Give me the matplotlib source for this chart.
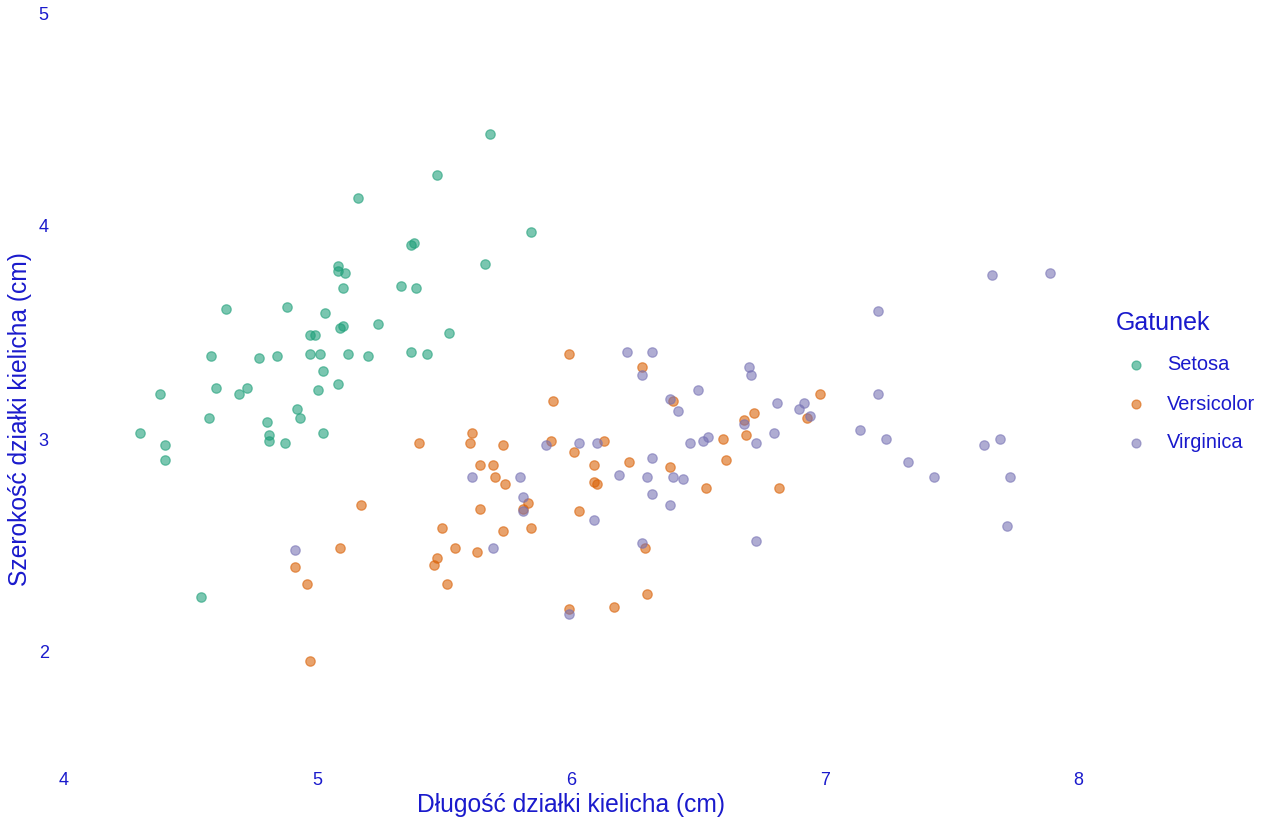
import matplotlib
matplotlib.use("Agg")
import matplotlib.pyplot as plt

plt.rcParams['font.family'] = ['Liberation Sans', 'DejaVu Sans']

# ---- data (sepal length / width, jittered) ----
setosa_x = [5.68, 5.47, 5.16, 5.84, 5.38, 5.37, 5.66, 5.08, 5.08, 5.11,
            5.10, 5.33, 5.39, 4.64, 4.88, 5.03, 5.24, 5.10, 5.09, 5.52,
            4.97, 4.99, 4.58, 4.77, 4.84, 4.97, 5.01, 5.12, 5.20, 5.37,
            5.43, 5.02, 4.38, 4.60, 4.69, 4.72, 5.00, 5.08, 4.57, 4.92,
            4.93, 4.80, 4.30, 4.81, 4.81, 4.87, 5.02, 4.40, 4.40, 4.54]
setosa_y = [4.43, 4.24, 4.13, 3.97, 3.92, 3.91, 3.82, 3.81, 3.79, 3.78,
            3.71, 3.72, 3.71, 3.61, 3.62, 3.59, 3.54, 3.53, 3.52, 3.50,
            3.49, 3.49, 3.39, 3.38, 3.39, 3.40, 3.40, 3.40, 3.39, 3.41,
            3.40, 3.32, 3.21, 3.24, 3.21, 3.24, 3.23, 3.26, 3.10, 3.14,
            3.10, 3.08, 3.03, 3.02, 2.99, 2.98, 3.03, 2.97, 2.90, 2.26]

versicolor_x = [5.40, 5.61, 5.60, 5.73, 5.64, 5.69, 5.70, 5.74, 5.83, 5.81,
                5.64, 5.17, 5.49, 5.73, 5.84, 5.54, 5.63, 5.09, 4.91, 5.47,
                5.46, 5.51, 4.96, 4.97, 5.99, 6.28, 5.93, 6.40, 6.72, 6.98,
                6.68, 6.69, 6.93, 5.92, 6.13, 6.01, 6.60, 6.61, 6.09, 6.23,
                6.39, 6.09, 6.10, 6.53, 6.82, 6.03, 6.29, 6.30, 6.17, 5.99]
versicolor_y = [2.98, 3.03, 2.98, 2.97, 2.88, 2.88, 2.82, 2.79, 2.70, 2.67,
                2.67, 2.69, 2.58, 2.57, 2.58, 2.49, 2.47, 2.49, 2.40, 2.44,
                2.41, 2.32, 2.32, 1.96, 3.40, 3.34, 3.18, 3.18, 3.12, 3.21,
                3.09, 3.02, 3.10, 2.99, 2.99, 2.94, 3.00, 2.90, 2.88, 2.89,
                2.87, 2.80, 2.79, 2.77, 2.77, 2.66, 2.49, 2.27, 2.21, 2.20]

virginica_x = [5.90, 5.61, 5.80, 5.81, 5.81, 5.69, 4.91, 6.22, 6.32, 6.28,
               6.70, 6.71, 6.50, 6.39, 6.42, 6.81, 6.92, 6.90, 6.94, 6.68,
               6.03, 6.10, 6.47, 6.54, 6.52, 6.73, 6.80, 6.32, 6.19, 6.30,
               6.40, 6.44, 6.32, 6.39, 6.09, 6.28, 6.73, 5.99, 7.66, 7.89,
               7.21, 7.21, 7.14, 7.24, 7.33, 7.43, 7.63, 7.69, 7.73, 7.72]
virginica_y = [2.97, 2.82, 2.82, 2.73, 2.66, 2.49, 2.48, 3.41, 3.41, 3.30,
               3.34, 3.30, 3.23, 3.19, 3.13, 3.17, 3.17, 3.14, 3.11, 3.07,
               2.98, 2.98, 2.98, 3.01, 2.99, 2.98, 3.03, 2.91, 2.83, 2.82,
               2.82, 2.81, 2.74, 2.69, 2.62, 2.51, 2.52, 2.18, 3.77, 3.78,
               3.60, 3.21, 3.04, 3.00, 2.89, 2.82, 2.97, 3.00, 2.82, 2.59]

species = ["Setosa", "Versicolor", "Virginica"]
colors = ["#1b9e77", "#d95f02", "#7570b3"]
x_ticks = [4, 5, 6, 7, 8]
y_ticks = [2, 3, 4, 5]

TXT = "#1a1acc"
W, H = 1280, 832
fig = plt.figure(figsize=(W / 100, H / 100), dpi=100)

left_px, right_px, top_px, bottom_px = 64, 1091, 13, 758.5
ax = fig.add_axes([left_px / W, 1 - bottom_px / H,
                   (right_px - left_px) / W, (bottom_px - top_px) / H])

handles = []
for xs, ys, c, name in zip([setosa_x, versicolor_x, virginica_x],
                           [setosa_y, versicolor_y, virginica_y],
                           colors, species):
    h = ax.scatter(xs, ys, s=46, color=c, edgecolor=c, linewidth=0.9,
                   alpha=0.58, label=name, zorder=3)
    handles.append(h)

ax.set_xlim(4, 8.05)
ax.set_ylim(1.5, 5)
ax.set_xticks(x_ticks)
ax.set_yticks(y_ticks)
ax.set_xticklabels([str(v) for v in x_ticks])
ax.set_yticklabels([str(v) for v in y_ticks])
for s in ax.spines.values():
    s.set_visible(False)
ax.tick_params(axis='both', length=0, labelsize=13, labelcolor=TXT)
ax.tick_params(axis='x', pad=10)
ax.tick_params(axis='y', pad=11)
for lab in ax.get_yticklabels() + ax.get_xticklabels():
    lab.set_clip_on(False)

fig.text(571 / W, 1 - 805 / H, "Długość działki kielicha (cm)", color=TXT,
         fontsize=17.7, ha='center', va='center')
fig.text(20 / W, 1 - 419 / H, "Szerokość działki kielicha (cm)", color=TXT,
         fontsize=17.7, ha='center', va='center', rotation=90)

leg = fig.legend(handles=handles, labels=species, loc='upper left',
                 bbox_to_anchor=(1116 / W, 1 - 311.5 / H), frameon=False,
                 title="Gatunek", fontsize=14.4, title_fontsize=18,
                 alignment='left', borderpad=0, borderaxespad=0,
                 handletextpad=0.55, labelspacing=1.0, markerscale=0.95,
                 handlelength=2.0)
leg.get_title().set_color(TXT)
for t in leg.get_texts():
    t.set_color(TXT)
leg._legend_box.get_children()[1].sep = 15

fig.savefig("out.png", dpi=100, facecolor="white")
